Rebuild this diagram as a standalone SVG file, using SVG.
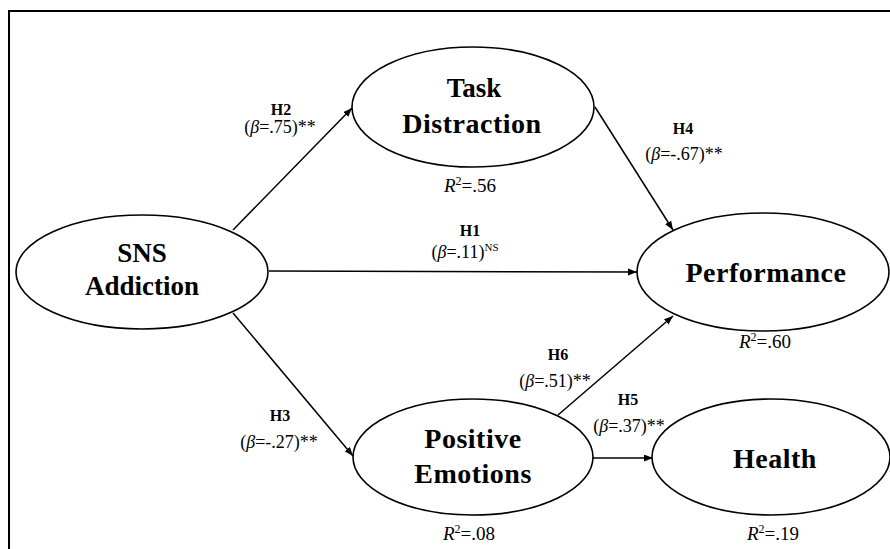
<svg xmlns="http://www.w3.org/2000/svg" width="890" height="549" viewBox="0 0 890 549">
<style>
.node ellipse{fill:#fff;stroke:#000;stroke-width:1.6}
.nl{font-weight:bold;font-size:28px;letter-spacing:0.5px;text-anchor:middle;fill:#000}
.nl2{font-weight:bold;font-size:27px;text-anchor:middle;fill:#000}
.r2{font-size:19px;text-anchor:middle;fill:#000}
.h{font-weight:bold;font-size:16px;text-anchor:middle;fill:#000}
.b{font-size:18px;text-anchor:middle;fill:#000}
.conn line{stroke:#000;stroke-width:1.5;fill:none;marker-end:url(#arr)}
</style>
<defs>
<marker id="arr" markerUnits="userSpaceOnUse" markerWidth="10" markerHeight="8" refX="9" refY="3.5" orient="auto">
<path d="M0,0 L9,3.5 L0,7 z" fill="#000"/>
</marker>
</defs>
<rect x="0" y="0" width="890" height="549" fill="#fff"/>
<rect x="9" y="11" width="900" height="570" fill="none" stroke="#000" stroke-width="2"/>
<g class="conn" id="connectors">
<line x1="233" y1="230" x2="352" y2="108"/>
<line x1="269" y1="271" x2="637" y2="272"/>
<line x1="595" y1="107" x2="673" y2="230"/>
<line x1="233" y1="313" x2="353" y2="456"/>
<line x1="558" y1="415" x2="673" y2="316"/>
<line x1="593" y1="458" x2="653" y2="458"/>
</g>
<g font-family="Liberation Serif">
<g class="node" id="sns">
<ellipse cx="142" cy="272" rx="126" ry="57"/>
<text class="nl2" x="142" y="262" font-family="Liberation Serif">SNS</text>
<text class="nl2" x="142" y="295" font-family="Liberation Serif">Addiction</text>
</g>
<g class="node" id="task">
<ellipse cx="473" cy="107" rx="121" ry="60"/>
<text class="nl2" x="474" y="97" font-family="Liberation Serif">Task</text>
<text class="nl" x="472" y="133" font-family="Liberation Serif">Distraction</text>
<text class="r2" x="470" y="192" font-family="Liberation Serif"><tspan font-style="italic">R</tspan><tspan font-size="12" dy="-7">2</tspan><tspan dy="7">=.56</tspan></text>
</g>
<g class="node" id="performance">
<ellipse cx="763" cy="272" rx="126" ry="59"/>
<text class="nl" x="766" y="282" font-family="Liberation Serif">Performance</text>
<text class="r2" x="765" y="348" font-family="Liberation Serif"><tspan font-style="italic">R</tspan><tspan font-size="12" dy="-7">2</tspan><tspan dy="7">=.60</tspan></text>
</g>
<g class="node" id="positive">
<ellipse cx="473" cy="457" rx="120" ry="58"/>
<text class="nl" x="473" y="448" font-family="Liberation Serif">Positive</text>
<text class="nl" x="473" y="483" font-family="Liberation Serif">Emotions</text>
<text class="r2" x="469" y="540" font-family="Liberation Serif"><tspan font-style="italic">R</tspan><tspan font-size="12" dy="-7">2</tspan><tspan dy="7">=.08</tspan></text>
</g>
<g class="node" id="health">
<ellipse cx="771" cy="457" rx="119" ry="58"/>
<text class="nl" x="775" y="468" font-family="Liberation Serif">Health</text>
<text class="r2" x="773" y="540" font-family="Liberation Serif"><tspan font-style="italic">R</tspan><tspan font-size="12" dy="-7">2</tspan><tspan dy="7">=.19</tspan></text>
</g>
<g id="labels">
<text class="h" x="281" y="115" font-family="Liberation Serif">H2</text>
<text class="b" x="280" y="133" font-family="Liberation Serif">(<tspan font-style="italic">β</tspan>=.75)**</text>
<text class="h" x="470" y="236" font-family="Liberation Serif">H1</text>
<text class="b" x="465" y="258" font-family="Liberation Serif">(<tspan font-style="italic">β</tspan>=.11)<tspan font-size="11" dy="-7">NS</tspan></text>
<text class="h" x="683" y="134" font-family="Liberation Serif">H4</text>
<text class="b" x="684" y="160" font-family="Liberation Serif">(<tspan font-style="italic">β</tspan>=-.67)**</text>
<text class="h" x="280" y="421" font-family="Liberation Serif">H3</text>
<text class="b" x="279" y="448" font-family="Liberation Serif">(<tspan font-style="italic">β</tspan>=-.27)**</text>
<text class="h" x="558" y="360" font-family="Liberation Serif">H6</text>
<text class="b" x="555" y="387" font-family="Liberation Serif">(<tspan font-style="italic">β</tspan>=.51)**</text>
<text class="h" x="628" y="405" font-family="Liberation Serif">H5</text>
<text class="b" x="629" y="432" font-family="Liberation Serif">(<tspan font-style="italic">β</tspan>=.37)**</text>
</g>
</g>
</svg>
